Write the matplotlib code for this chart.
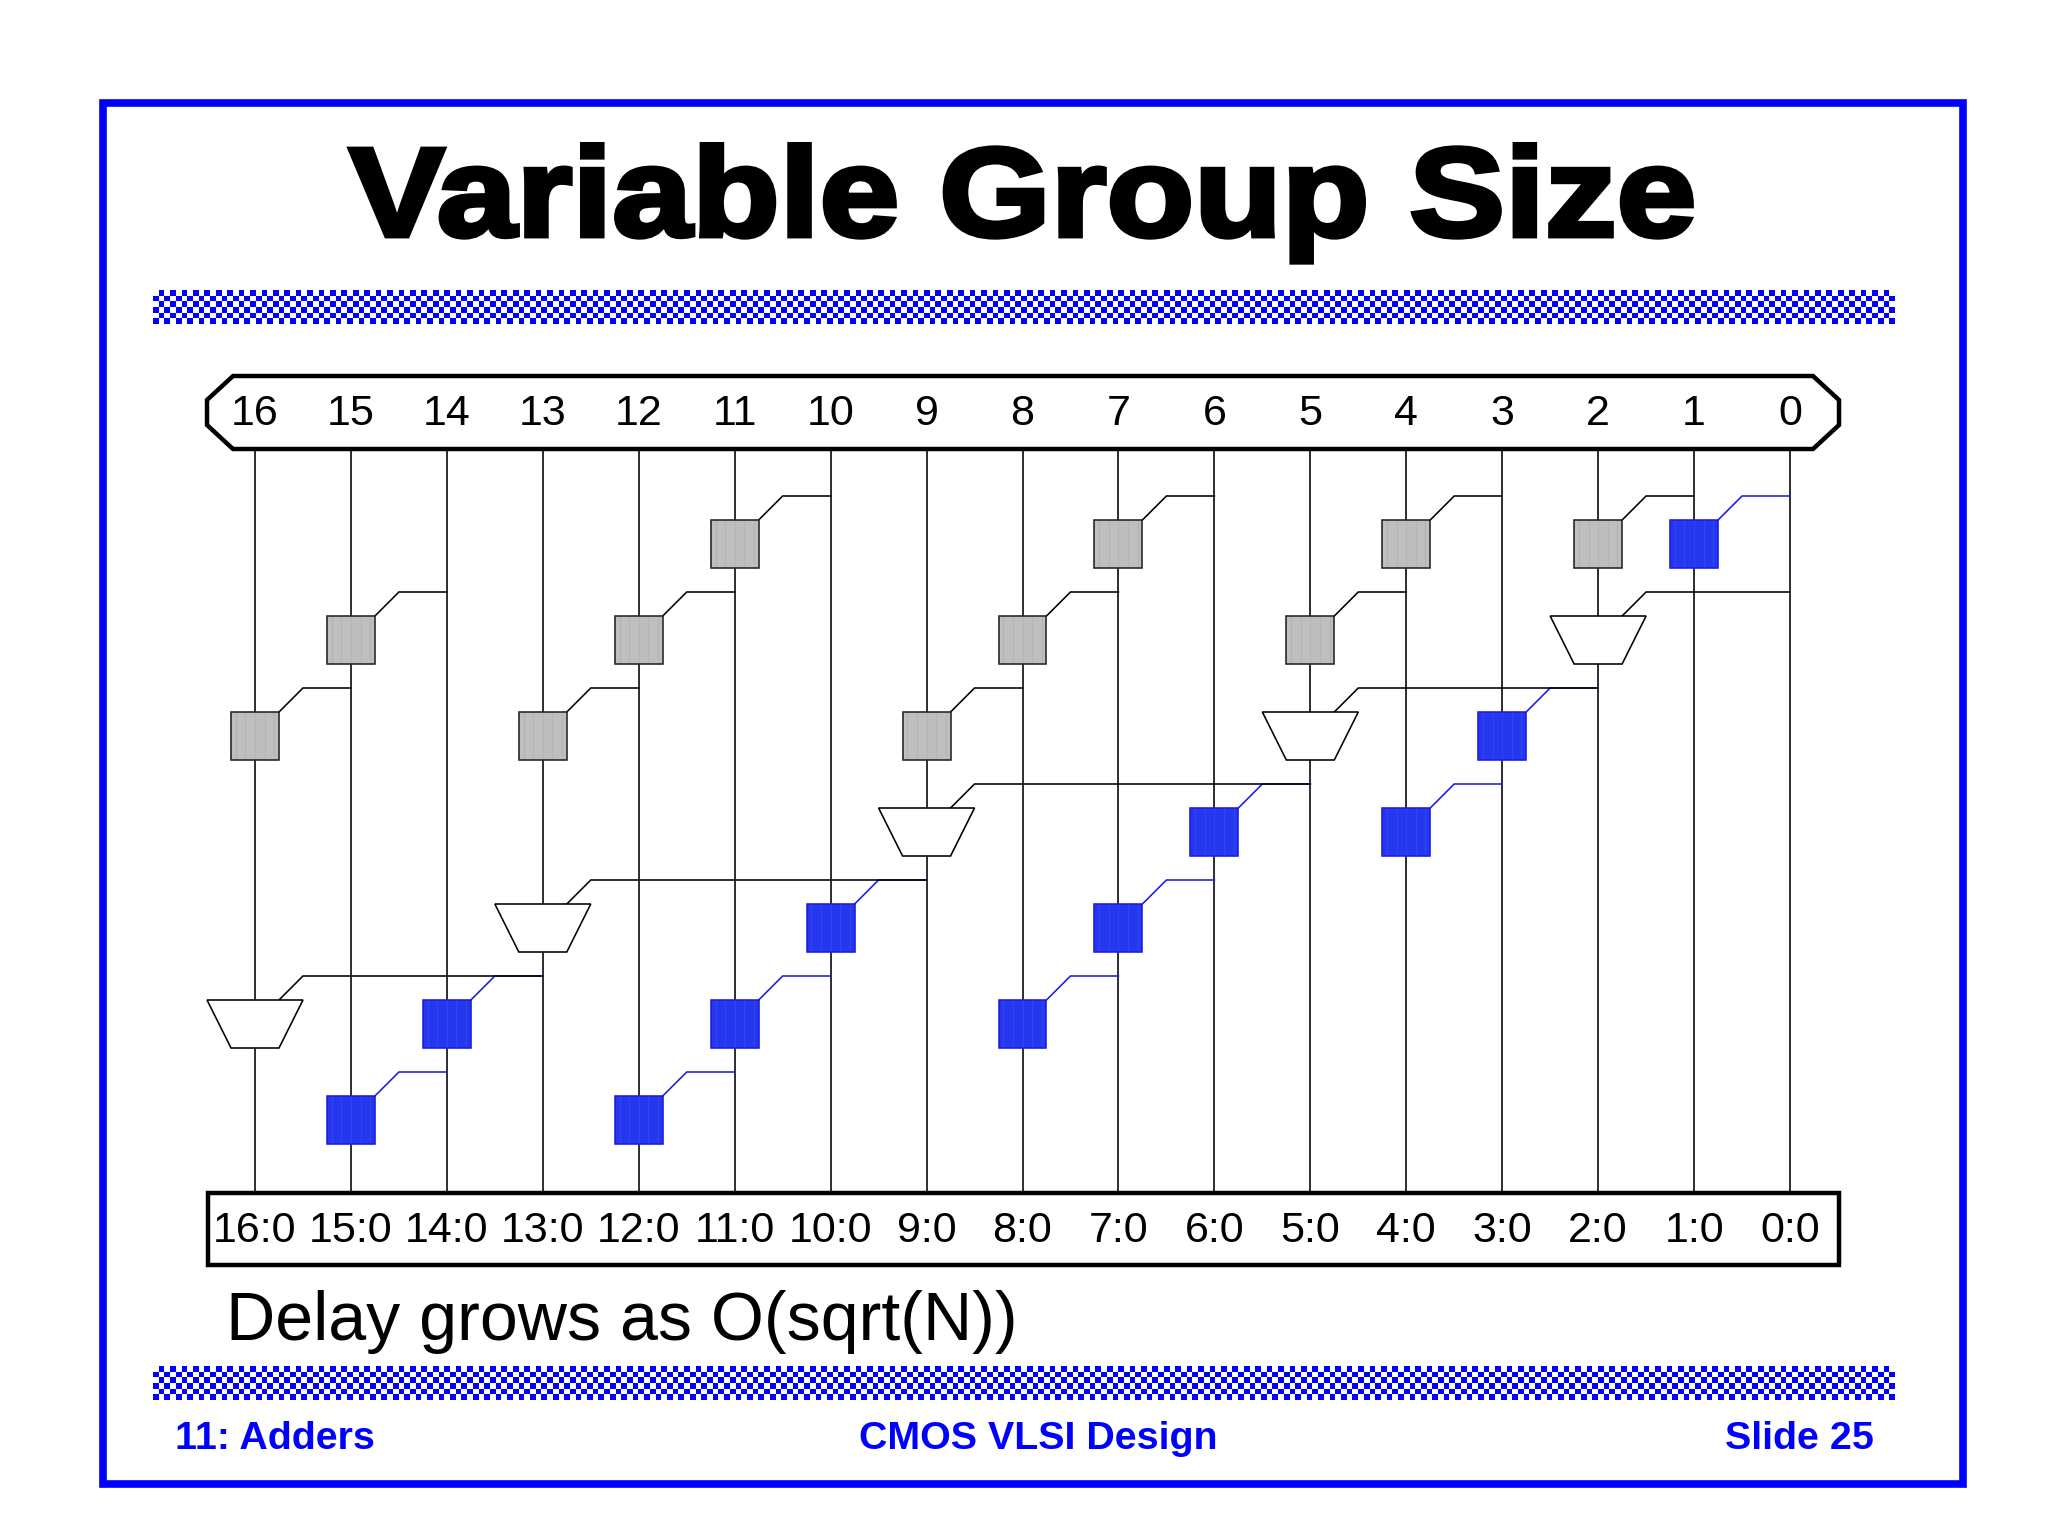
import numpy as np
import matplotlib
matplotlib.use("Agg")
import matplotlib.pyplot as plt
import matplotlib.patheffects as pe
from matplotlib.colors import ListedColormap
from matplotlib.patches import Rectangle, Polygon
from matplotlib.transforms import Affine2D

W = 2048
H = 1536

top_labels = ["16", "15", "14", "13", "12", "11", "10", "9", "8", "7", "6", "5", "4", "3", "2", "1", "0"]
bottom_labels = ["16:0", "15:0", "14:0", "13:0", "12:0", "11:0", "10:0", "9:0", "8:0", "7:0", "6:0", "5:0", "4:0", "3:0", "2:0", "1:0", "0:0"]
columns = [16, 15, 14, 13, 12, 11, 10, 9, 8, 7, 6, 5, 4, 3, 2, 1, 0]

# (column, level, column the side wire goes to)
grey_nodes = [(11, 0, 10), (7, 0, 6), (4, 0, 3), (2, 0, 1),
              (15, 1, 14), (12, 1, 11), (8, 1, 7), (5, 1, 4),
              (16, 2, 15), (13, 2, 12), (9, 2, 8)]
blue_nodes = [(1, 0, 0), (3, 2, 2), (6, 3, 5), (4, 3, 3),
              (10, 4, 9), (7, 4, 6), (14, 5, 13), (11, 5, 10),
              (8, 5, 7), (15, 6, 14), (12, 6, 11)]
mux_nodes = [(2, 1, 0), (5, 2, 2), (9, 3, 5), (13, 4, 9), (16, 5, 13)]

title = "Variable Group Size"
note = "Delay grows as O(sqrt(N))"
footer = ["11: Adders", "CMOS VLSI Design", "Slide 25"]

BLUE = "#0000ff"
GREY = "#bebebe"
SQ_BLUE = "#2638ee"
font = ["Liberation Sans", "DejaVu Sans"]


class WideStroke(pe.AbstractPathEffect):
    # the slide title is Arial Black, so widen and thicken the bold glyphs
    def __init__(self, cx, sx, lw):
        super().__init__()
        self.cx = cx
        self.sx = sx
        self.lw = lw

    def draw_path(self, renderer, gc, tpath, affine, rgbFace):
        stretch = affine + Affine2D().translate(-self.cx, 0).scale(self.sx, 1).translate(self.cx, 0)
        gc0 = renderer.new_gc()
        gc0.copy_properties(gc)
        gc0.set_linewidth(self.lw)
        gc0.set_joinstyle("miter")
        gc0.set_foreground("black")
        renderer.draw_path(gc0, tpath, stretch, rgbFace)
        gc0.restore()


fig = plt.figure(figsize=(W / 100, H / 100), dpi=100, facecolor="white")

# page axes in pixels, for the slide frame and text
page = fig.add_axes([0, 0, 1, 1])
page.axis("off")

page.add_patch(Rectangle((103, 103), 1860, 1381, fill=False, ec=BLUE, lw=5.5, joinstyle="miter"))

page.text(1023, 236, title, family=font, weight="bold", fontsize=91, ha="center", va="baseline",
          path_effects=[WideStroke(1023, 1.135, 3.5)])


def checker_bar(y0, y1):
    img = np.indices((6, 305)).sum(axis=0) % 2
    page.imshow(img, extent=(153, 1895, y1, y0), cmap=ListedColormap(["white", BLUE]),
                interpolation="nearest", aspect="auto", zorder=2)


checker_bar(290, 324)
checker_bar(1366, 1400)
page.set_xlim(0, W)
page.set_ylim(H, 0)

# top bus outline and bottom box
page.add_patch(Polygon([(207, 400), (233, 376), (1813, 376), (1839, 400), (1839, 425), (1813, 449),
                        (233, 449), (207, 425)], closed=True, fill=False, ec="black", lw=3.2))
page.add_patch(Rectangle((208, 1193), 1631, 72, fill=False, ec="black", lw=3.2))

page.text(226, 1322, note, family=font, fontsize=49.1, ha="left", va="center", color="black")

page.text(175, 1439, footer[0], family=font, weight="bold", fontsize=28.4, color=BLUE, ha="left", va="center")
page.text(1038, 1439, footer[1], family=font, weight="bold", fontsize=28.4, color=BLUE, ha="center", va="center")
page.text(1874, 1439, footer[2], family=font, weight="bold", fontsize=28.4, color=BLUE, ha="right", va="center")

# diagram axes: x is the column number, y is the level
left, right, top, bottom = 255, 1790, 449, 1193
ax = fig.add_axes([left / W, 1 - bottom / H, (right - left) / W, (bottom - top) / H])
ax.set_xlim(16, 0)
ax.set_ylim((bottom - 520) / 96, (top - 520) / 96)
ax.axis("off")
ax.patch.set_alpha(0)

LW = 1.15

for c, lab, lab2 in zip(columns, top_labels, bottom_labels):
    ax.plot([c, c], ax.get_ylim(), color="black", lw=LW, zorder=1, clip_on=False)
    ax.text(c, -1.1, lab, family=font, fontsize=31, ha="center", va="center", clip_on=False)
    ax.text(c, 7.41, lab2, family=font, fontsize=31, ha="center", va="center", clip_on=False)


def side_wire(c, level, src, color, z):
    ax.plot([c - 0.25, c - 0.5, src], [level, level - 0.25, level - 0.25], color=color, lw=LW, zorder=z,
            solid_joinstyle="miter", clip_on=False)


def square(c, level, fc, ec, stripe):
    ax.add_patch(Rectangle((c - 0.25, level), 0.5, 0.5, fc=fc, ec="none", zorder=4, clip_on=False))
    # the original fill is a fine dither with faint stripes in it
    for f in [0.1, 0.3, 0.5, 0.7, 0.9]:
        ax.plot([c - 0.25 + 0.5 * f] * 2, [level, level + 0.5], color=stripe, lw=0.8, alpha=0.5, zorder=4.1, clip_on=False)
    ax.add_patch(Rectangle((c - 0.25, level), 0.5, 0.5, fill=False, ec=ec, lw=LW, zorder=4.2, clip_on=False))


for c, level, src in blue_nodes:
    side_wire(c, level, src, "#1a1ae6", 2)
    square(c, level, SQ_BLUE, "#1a1ae6", "#4052f2")

for c, level, src in grey_nodes:
    side_wire(c, level, src, "black", 3)
    square(c, level, GREY, "#222222", "#aaaaaa")

for c, level, src in mux_nodes:
    side_wire(c, level, src, "black", 3)
    ax.add_patch(Polygon([(c - 0.5, level), (c + 0.5, level), (c + 0.25, level + 0.5), (c - 0.25, level + 0.5)],
                         closed=True, fc="white", ec="black", lw=LW, zorder=4, clip_on=False))

fig.savefig("out.png", dpi=100, facecolor="white")
